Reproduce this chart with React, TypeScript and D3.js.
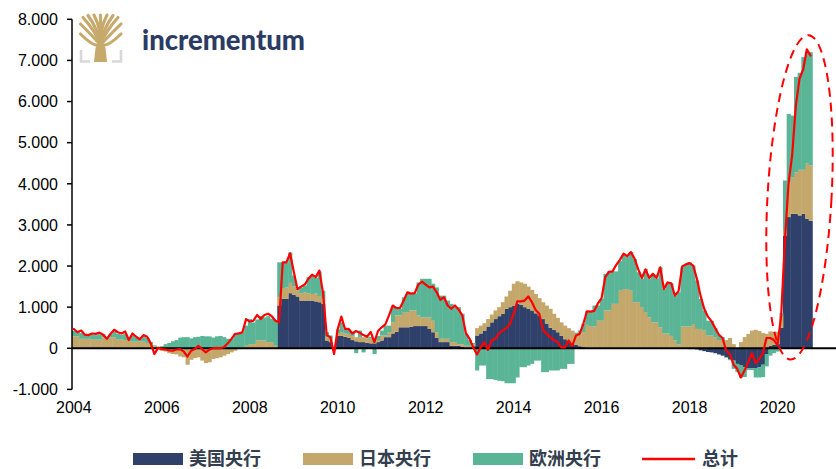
import React from "react";
import * as d3 from "d3";

// Year-on-year change of central bank balance sheets, in USD thousand billions.
// Monthly values, first entry = January 2004, last entry = October 2020.
const FIRST_YEAR = 2004;

const fedChange = [
  0.02, 0.02, 0.02, 0.02, 0.02, 0.02, 0.02, 0.02, 0.02, 0.02, 0.02, 0.02,
  0.01, 0.01, 0.01, 0.01, 0.01, 0.01, 0.01, 0.01, 0.01, 0.01, 0.01, 0.01,
  0, 0, 0, 0, 0, 0, 0, 0, 0, 0, 0, 0,
  0, 0, 0, 0, 0, 0, 0, 0, 0, 0, 0, 0,
  0, 0, 0, 0, 0, 0, 0, 0, 1.04, 1.2, 1.2, 1.34,
  1.3, 1.26, 1.16, 1.16, 1.16, 1.16, 1.14, 1.12, 1.08, 0.19, 0.15, 0.02,
  0.3, 0.3, 0.28, 0.25, 0.2, 0.17, 0.15, 0.15, 0.13, 0.12, 0.12, 0.15,
  0.19, 0.27, 0.27, 0.36, 0.4, 0.51, 0.51, 0.51, 0.52, 0.54, 0.54, 0.54,
  0.54, 0.47, 0.39, 0.25, 0.15, 0.15, 0.15, 0.06, 0.06, 0.06, 0.03, 0.02,
  0.02, 0.05, 0.31, 0.36, 0.43, 0.53, 0.63, 0.71, 0.78, 0.84, 0.96, 1.0,
  1.04, 1.08, 1.06, 1.0, 0.96, 0.92, 0.85, 0.8, 0.71, 0.6, 0.5, 0.45,
  0.39, 0.3, 0.22, 0.16, 0.12, 0.08, 0.05, 0.03, 0.02, 0.01, 0, 0,
  0, 0, 0, 0, 0, 0, 0, 0, 0, 0, 0, 0,
  0, 0, 0, 0, 0, 0, 0, 0, 0, 0, 0, -0.01,
  -0.02, -0.02, -0.03, -0.05, -0.07, -0.09, -0.1, -0.12, -0.15, -0.18, -0.22, -0.26,
  -0.3, -0.38, -0.42, -0.46, -0.49, -0.49, -0.48, -0.46, -0.4, -0.14, 0.06, 0.08,
  0.1, 0.5, 2.74, 3.19, 3.27, 3.27, 3.23, 3.27, 3.15, 3.1,
];

const bojChange = [
  0.27, 0.27, 0.21, 0.21, 0.21, 0.19, 0.19, 0.19, 0.25, 0.19, 0.25, 0.25,
  0.2, 0.2, 0.19, 0.19, 0.15, 0.15, 0.16, 0.15, 0.12, 0.09, 0.04, 0.0,
  -0.06, -0.08, -0.12, -0.14, -0.15, -0.2, -0.22, -0.4, -0.28, -0.24, -0.22, -0.3,
  -0.36, -0.34, -0.26, -0.24, -0.22, -0.18, -0.14, -0.1, -0.06, -0.02, 0.03, 0.06,
  0.1, 0.1, 0.19, 0.19, 0.19, 0.15, 0.15, 0.06, 0.2, 0.25, 0.28, 0.25,
  0.2, 0.15, 0.18, 0.2, 0.18, 0.16, 0.2, 0.15, 0.12, 0.08, 0.06, 0.02,
  0.06, 0.08, 0.08, 0.1, 0.1, 0.1, 0.12, 0.12, 0.11, 0.11, 0.08, 0.05,
  0.12, 0.04, 0.12, 0.27, 0.4, 0.29, 0.37, 0.37, 0.4, 0.38, 0.26, 0.21,
  0.21, 0.28, 0.28, 0.14, 0.08, 0.08, 0.08, 0.09, 0.09, 0.04, 0.07, 0.04,
  0.04, 0.04, 0.18, 0.19, 0.18, 0.18, 0.19, 0.21, 0.22, 0.28, 0.3, 0.4,
  0.53, 0.55, 0.54, 0.57, 0.54, 0.5, 0.47, 0.42, 0.41, 0.44, 0.46, 0.39,
  0.35, 0.33, 0.33, 0.33, 0.31, 0.27, 0.33, 0.36, 0.55, 0.53, 0.53, 0.67,
  0.67, 0.92, 0.92, 1.08, 1.08, 1.4, 1.44, 1.44, 1.4, 1.12, 1.12, 1.0,
  0.88, 0.75, 0.63, 0.63, 0.51, 0.36, 0.36, 0.3, 0.19, 0.09, 0.53, 0.53,
  0.53, 0.59, 0.47, 0.47, 0.43, 0.31, 0.31, 0.27, 0.2, 0.2, 0.2, 0.25,
  0.1, 0.0, 0.15, 0.27, 0.35, 0.43, 0.45, 0.42, 0.37, 0.35, 0.35, 0.32,
  0.3, 0.3, 0.12, 0.85, 0.89, 1.01, 1.11, 1.07, 1.34, 1.35,
];

const ecbChange = [
  0.13, 0.1, 0.14, 0.1, 0.09, 0.12, 0.11, 0.13, 0.08, 0.06, 0.08, 0.13,
  0.14, 0.12, 0.15, 0.03, 0.15, 0.1, 0.05, 0.12, 0.12, 0.05, 0.02, 0.03,
  0.05, 0.1, 0.13, 0.17, 0.2, 0.26, 0.27, 0.27, 0.24, 0.27, 0.28, 0.3,
  0.29, 0.29, 0.26, 0.29, 0.3, 0.27, 0.23, 0.23, 0.36, 0.39, 0.36, 0.49,
  0.61, 0.53, 0.51, 0.6, 0.56, 0.63, 0.57, 0.61, 0.85, 0.64, 0.61, 0.74,
  0.27, 0.03, 0.14, 0.16, 0.39, 0.46, 0.37, 0.6, 0.2, 0.12, 0.1, -0.05,
  0.1, 0.25, 0.1, 0.1, 0.1, -0.12, 0.16, -0.1, 0.03, 0.05, -0.14, 0.1,
  0.12, 0.24, 0.16, 0.37, 0.16, 0.16, 0.36, 0.44, 0.4, 0.41, 0.8, 0.94,
  0.94, 0.94, 0.9, 1.09, 1.05, 1.05, 0.93, 0.93, 0.85, 0.9, 0.74, 0.29,
  0.14, 0.04, -0.54, -0.42, -0.42, -0.75, -0.75, -0.77, -0.79, -0.8, -0.85, -0.85,
  -0.85, -0.71, -0.46, -0.46, -0.42, -0.38, -0.3, -0.3, -0.58, -0.58, -0.54, -0.54,
  -0.54, -0.5, -0.5, -0.38, -0.38, 0.03, 0.05, 0.21, 0.33, 0.37, 0.51, 0.37,
  0.53, 0.89, 0.95, 0.79, 0.79, 0.72, 0.86, 0.79, 0.94, 1.05, 0.73, 0.69,
  1.05, 0.94, 1.18, 1.06, 1.46, 1.08, 1.24, 1.28, 1.09, 1.27, 1.44, 1.52,
  1.56, 1.42, 1.18, 0.73, 0.49, 0.36, 0.36, 0.22, 0.13, 0.07, -0.01, -0.03,
  -0.2, -0.2, -0.29, -0.24, -0.04, -0.04, -0.23, -0.25, -0.3, -0.3, -0.18, -0.12,
  -0.08, 0.05, 1.22, 1.66, 1.5, 2.32, 2.36, 2.74, 2.71, 2.75,
];

const totalChange = [
  0.47, 0.39, 0.43, 0.33, 0.32, 0.36, 0.35, 0.38, 0.33, 0.23, 0.35, 0.45,
  0.39, 0.36, 0.41, 0.2, 0.36, 0.28, 0.22, 0.32, 0.28, 0.12, -0.14, 0.01,
  -0.02, -0.03, -0.05, -0.06, -0.03, -0.02, -0.08, -0.2, -0.06, -0.02, 0.06, -0.02,
  -0.1, -0.03, 0.0, 0.01, 0.0, 0.03, 0.12, 0.23, 0.35, 0.36, 0.39, 0.71,
  0.65, 0.67, 0.81, 0.71, 0.81, 0.84, 0.78, 0.67, 0.63, 2.09, 2.09, 2.31,
  1.87, 1.44, 1.5, 1.55, 1.69, 1.79, 1.73, 1.89, 1.34, 0.32, 0.27, -0.14,
  0.47, 0.77, 0.47, 0.47, 0.36, 0.42, 0.38, 0.32, 0.28, 0.4, 0.15, 0.42,
  0.51, 0.58, 0.8, 1.04, 0.98, 0.98, 1.16, 1.36, 1.33, 1.34, 1.55, 1.62,
  1.55, 1.48, 1.5, 1.36, 1.18, 1.24, 1.04, 0.96, 1.04, 0.94, 0.8, 0.36,
  0.23, 0.02, -0.15, 0.02, 0.15, -0.04, 0.19, 0.23, 0.36, 0.43, 0.49, 0.59,
  0.84, 1.14, 1.14, 1.16, 1.26, 1.12, 0.93, 0.84, 0.45, 0.35, 0.27, 0.2,
  0.15, 0.02, 0.02, 0.19, 0.06, 0.31, 0.35, 0.59, 0.9, 0.89, 0.91, 1.09,
  1.22, 1.73, 1.86, 1.87, 2.03, 2.15, 2.3, 2.24, 2.34, 2.18, 1.92, 1.71,
  1.92, 1.71, 1.81, 1.71, 1.97, 1.44, 1.6, 1.58, 1.28, 1.39, 1.99, 2.04,
  2.07, 2.01, 1.69, 1.28, 0.96, 0.77, 0.66, 0.49, 0.33, 0.25, -0.06, -0.14,
  -0.4, -0.5, -0.71, -0.54, -0.34, -0.12, -0.36, -0.26, -0.12, 0.25, 0.25, 0.2,
  0.08, 0.8, 2.6, 4.0, 4.7, 5.9, 6.55, 6.78, 7.27, 7.12,
];

const seriesKeys = ["fed", "boj", "ecb"];
const seriesLabels = ["美国央行", "日本央行", "欧洲央行"];
const seriesColors = ["#2f416b", "#c4a76b", "#5ab596"];
const totalLabel = "总计";
const totalColor = "#ff0000";

const yTickValues = [-1, 0, 1, 2, 3, 4, 5, 6, 7, 8];
const xTickYears = [2004, 2006, 2008, 2010, 2012, 2014, 2016, 2018, 2020];

// Dashed highlight around the 2020 surge (centre month index, value span)
const highlightMonth = (2020 - FIRST_YEAR) * 12 + 6;
const highlightTop = 7.62;
const highlightBottom = -0.28;

const W = 836;
const H = 469;
const PLOT_LEFT = 72;
const MONTH_STEP = 3.665;

const numFormat = d3
  .formatLocale({ decimal: ",", thousands: ".", grouping: [3], currency: ["", ""], minus: "-" })
  .format(",");

const Logo: React.FC = () => {
  const gold = "#c6a96b";
  const trunkTopX = 100.5;
  const trunkTopY = 45;
  const tips: [number, number][] = [
    [80.5, 34],
    [80.5, 24],
    [83, 17.5],
    [88, 15.5],
    [94, 15],
    [100.5, 15],
    [107, 15],
    [113, 15.5],
    [118, 17.5],
    [121, 24],
    [121, 34],
  ];
  return (
    <g>
      {tips.map(([tx, ty], k) => {
        const cx = (trunkTopX + tx) / 2 + (tx < trunkTopX ? 4 : tx > trunkTopX ? -4 : 0);
        const cy = ty + 14;
        return (
          <path
            key={k}
            d={`M${trunkTopX},${trunkTopY} Q${cx},${cy} ${tx},${ty}`}
            fill="none"
            stroke={gold}
            strokeWidth={3.1}
            strokeLinecap="round"
          />
        );
      })}
      <path d="M94,62 L95.5,48 Q100.5,37 105.5,48 L107,62 Z" fill={gold} />
      <path d="M81,50 L81,61.5 L90,61.5" fill="none" stroke="#d9d9d9" strokeWidth={2.6} />
      <path d="M121,50 L121,61.5 L112,61.5" fill="none" stroke="#d9d9d9" strokeWidth={2.6} />
      <text
        x={142}
        y={49.5}
        fontFamily="Lato, 'Open Sans', sans-serif"
        fontWeight={900}
        fontSize={27.5}
        fill="#2b3b64"
        textLength={163}
        lengthAdjust="spacingAndGlyphs"
      >
        incrementum
      </text>
    </g>
  );
};

export default function App() {
  const n = fedChange.length;
  const months = d3.range(n);
  const rows = months.map((i) => ({
    fed: fedChange[i],
    boj: bojChange[i],
    ecb: ecbChange[i],
  }));

  const layers = d3
    .stack<any>()
    .keys(seriesKeys)
    .offset(d3.stackOffsetDiverging)(rows);

  const x = d3
    .scaleBand<number>()
    .domain(months)
    .range([PLOT_LEFT, PLOT_LEFT + n * MONTH_STEP])
    .paddingInner(0)
    .paddingOuter(0);
  const bw = x.bandwidth();
  const xc = (i: number) => (x(i) as number) + bw / 2;

  const y = d3.scaleLinear().domain([-1, 8]).range([389.4, 19.3]);

  const totalPath = d3
    .line<number>()
    .x((_, i) => xc(i))
    .y((v) => y(v))(totalChange) as string;

  const axisFont = "'Liberation Sans', Arial, sans-serif";
  const cjkFont = "'Noto Sans CJK SC', 'Noto Sans', sans-serif";

  const ellCx = xc(highlightMonth);
  const ellCy = (y(highlightTop) + y(highlightBottom)) / 2;
  const ellRy = (y(highlightBottom) - y(highlightTop)) / 2;

  const legendY = 459;
  const legendItems = [
    { label: seriesLabels[0], color: seriesColors[0], x: 133, kind: "rect" },
    { label: seriesLabels[1], color: seriesColors[1], x: 303, kind: "rect" },
    { label: seriesLabels[2], color: seriesColors[2], x: 473, kind: "rect" },
    { label: totalLabel, color: totalColor, x: 642, kind: "line" },
  ];

  return (
    <svg
      width={W}
      height={H}
      viewBox={`0 0 ${W} ${H}`}
      style={{ position: "absolute", left: 0, top: 0, background: "#fff" }}
    >
      <rect x={0} y={0} width={W} height={H} fill="#fff" />

      {/* stacked monthly bars, positives up and negatives down */}
      {layers.map((layer, li) => (
        <g key={layer.key} fill={seriesColors[li]}>
          {layer.map((d, i) => {
            const top = y(Math.max(d[0], d[1]));
            const bottom = y(Math.min(d[0], d[1]));
            const h = bottom - top;
            if (h <= 0.01) return null;
            return <rect key={i} x={x(i)} y={top} width={bw + 0.45} height={h} />;
          })}
        </g>
      ))}

      {/* zero line */}
      <line x1={PLOT_LEFT} x2={W} y1={y(0)} y2={y(0)} stroke="#000" strokeWidth={2} />

      {/* y axis */}
      <line x1={PLOT_LEFT} x2={PLOT_LEFT} y1={y(8)} y2={y(-1)} stroke="#000" strokeWidth={1.5} />
      {yTickValues.map((v) => (
        <g key={v}>
          <line x1={PLOT_LEFT - 5} x2={PLOT_LEFT} y1={y(v)} y2={y(v)} stroke="#000" strokeWidth={1.5} />
          <text
            x={58}
            y={y(v)}
            dy="0.36em"
            textAnchor="end"
            fontFamily={axisFont}
            fontSize={16}
            fill="#000"
          >
            {numFormat(v * 1000)}
          </text>
        </g>
      ))}

      {/* year labels */}
      {xTickYears.map((yr) => (
        <text
          key={yr}
          x={xc((yr - FIRST_YEAR) * 12)}
          y={413}
          textAnchor="middle"
          fontFamily={axisFont}
          fontSize={16}
          fill="#000"
        >
          {yr}
        </text>
      ))}

      {/* total line */}
      <path
        d={totalPath}
        fill="none"
        stroke={totalColor}
        strokeWidth={2.2}
        strokeLinejoin="round"
        strokeLinecap="round"
      />

      {/* dashed highlight */}
      <ellipse
        cx={ellCx}
        cy={ellCy}
        rx={32}
        ry={ellRy}
        fill="none"
        stroke={totalColor}
        strokeWidth={2}
        strokeDasharray="9 6"
        transform={`rotate(3.2 ${ellCx} ${ellCy})`}
      />

      <Logo />

      {/* legend */}
      {legendItems.map((it) => (
        <g key={it.label}>
          {it.kind === "rect" ? (
            <rect x={it.x} y={legendY - 6} width={50} height={12} fill={it.color} />
          ) : (
            <line x1={it.x} x2={it.x + 53} y1={legendY} y2={legendY} stroke={it.color} strokeWidth={2.5} />
          )}
          <text
            x={it.kind === "rect" ? it.x + 56 : it.x + 60}
            y={legendY}
            dy="0.36em"
            fontFamily={cjkFont}
            fontWeight={700}
            fontSize={18}
            fill="#333e4f"
          >
            {it.label}
          </text>
        </g>
      ))}
    </svg>
  );
}
